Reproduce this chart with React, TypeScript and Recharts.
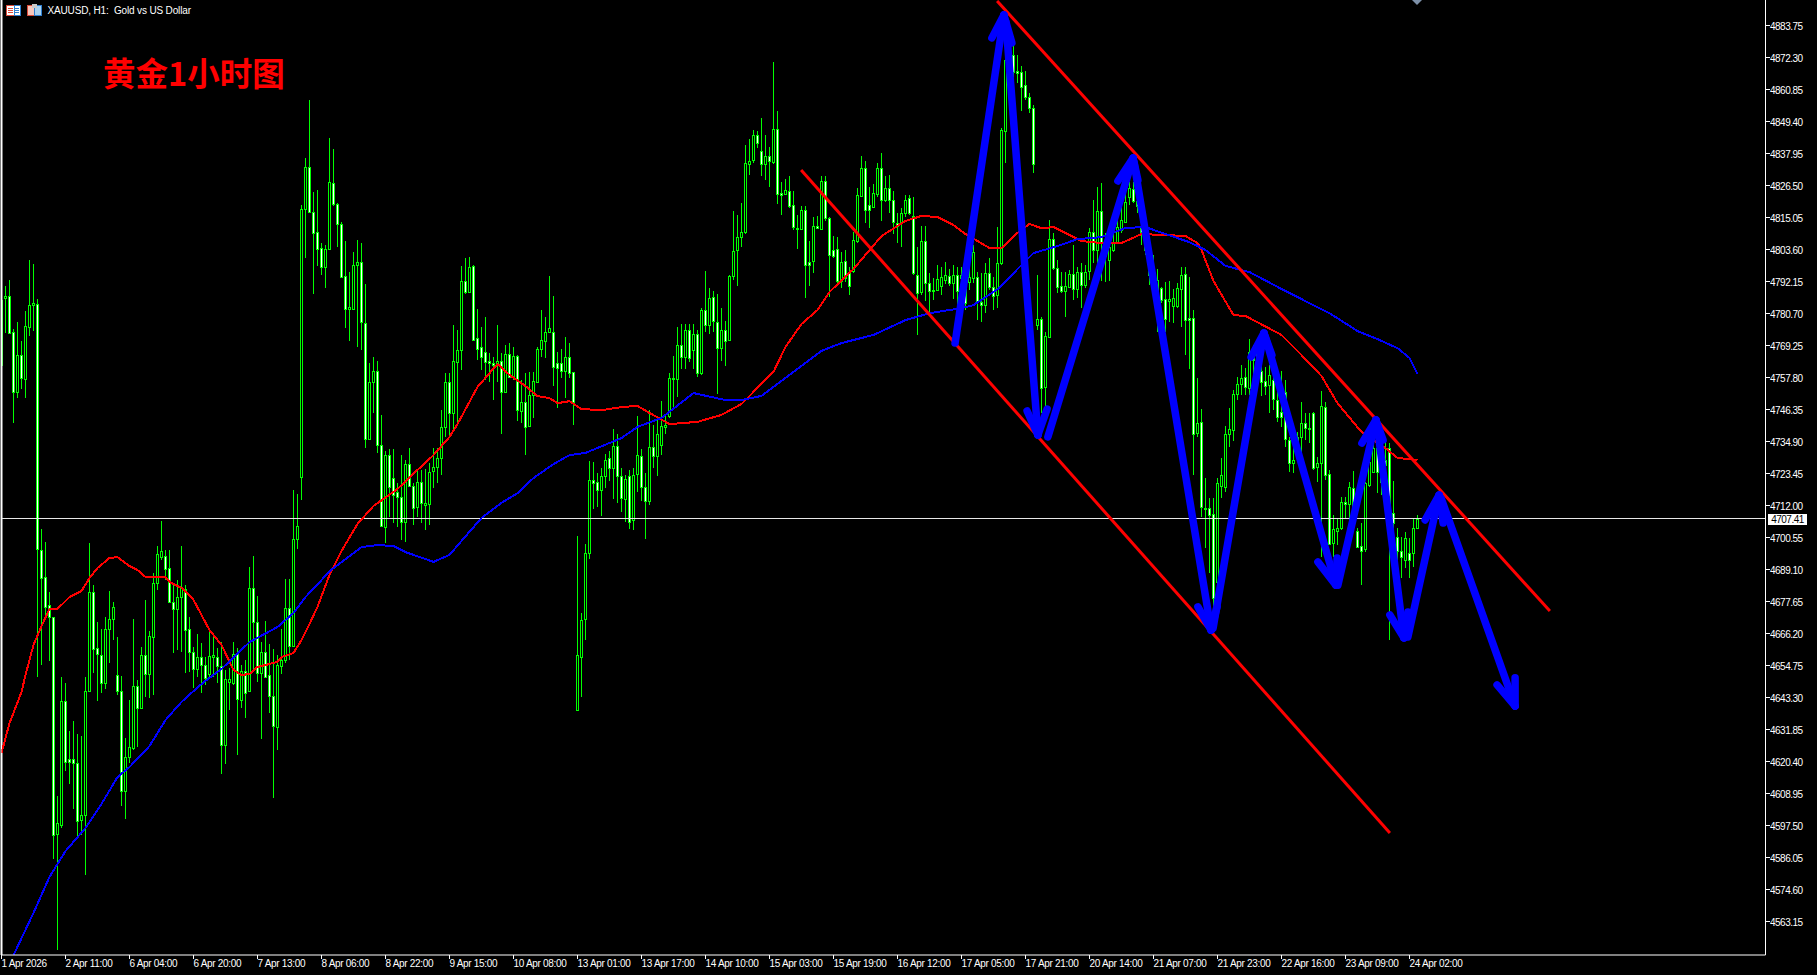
import React from "react";
import {
  Bar,
  ComposedChart,
  Line,
  ReferenceLine,
  XAxis,
  YAxis,
} from "recharts";

const opens = [
  4785.7,4786.4,4787.1,4774.3,4752.8,4766.0,4757.4,4776.0,4783.9,4784.3,
  4696.3,4686.6,4676.6,4672.3,4594.6,4597.9,4642.2,4621.5,4621.5,4620.0,
  4599.6,4601.4,4645.8,4681.2,4661.2,4658.7,4648.7,4668.0,4671.6,4651.5,
  4645.8,4610.0,4622.2,4625.4,4647.6,4639.7,4658.7,4651.9,4665.1,4684.4,
  4693.7,4694.1,4689.8,4677.7,4675.2,4679.4,4682.3,4668.0,4659.8,4653.7,
  4657.9,4655.1,4651.9,4657.9,4657.9,4654.7,4626.5,4649.0,4648.7,4659.0,
  4642.6,4653.0,4645.8,4682.7,4670.5,4652.2,4659.8,4651.5,4644.0,4632.9,
  4654.7,4656.9,4675.5,4661.9,4700.2,4722.4,4818.3,4833.3,4817.2,4810.0,
  4804.3,4797.5,4803.9,4827.6,4820.0,4812.9,4794.3,4782.5,4782.5,4798.2,
  4799.3,4777.5,4736.0,4756.4,4760.3,4733.8,4704.5,4730.2,4722.0,4717.0,
  4715.2,4706.3,4727.0,4719.1,4711.6,4720.6,4712.3,4712.7,4724.5,4726.0,
  4729.2,4740.3,4756.4,4745.3,4763.5,4767.8,4792.5,4788.6,4797.9,4772.1,
  4768.9,4767.1,4763.9,4763.2,4763.2,4763.9,4752.8,4766.4,4758.1,4765.7,
  4746.0,4749.2,4740.6,4751.7,4756.4,4768.2,4771.0,4774.3,4774.3,4763.2,
  4763.2,4760.3,4765.3,4759.9,4639.0,4657.9,4671.6,4695.2,4721.3,4720.6,
  4717.7,4722.7,4729.2,4725.6,4733.5,4722.7,4714.5,4722.7,4707.0,4723.4,
  4729.9,4718.8,4713.8,4733.1,4729.9,4733.8,4740.3,4744.2,4757.8,4757.4,
  4769.6,4765.3,4775.0,4767.8,4773.6,4759.6,4782.1,4776.8,4786.8,4777.8,
  4768.5,4775.0,4771.4,4794.3,4803.6,4808.3,4810.0,4834.4,4835.8,4844.7,
  4839.0,4834.4,4837.2,4835.1,4846.9,4824.0,4823.6,4824.7,4819.7,4811.4,
  4811.1,4817.9,4799.3,4799.7,4812.2,4811.1,4828.3,4815.1,4803.6,4803.9,
  4792.5,4799.7,4795.4,4796.1,4806.8,4822.9,4832.9,4819.7,4819.0,4823.6,
  4832.9,4821.5,4825.8,4821.5,4813.3,4813.3,4816.8,4822.2,4815.8,4794.6,
  4788.6,4806.8,4791.8,4789.3,4789.3,4790.7,4792.9,4794.3,4791.8,4794.6,
  4793.6,4791.0,4792.1,4793.6,4793.9,4785.0,4783.9,4795.4,4790.4,4787.5,
  4798.9,4846.2,4880.5,4873.4,4867.6,4867.3,4862.6,4858.3,4854.4,4776.8,
  4778.9,4754.6,4772.5,4807.5,4797.2,4790.7,4788.9,4790.4,4795.0,4789.6,
  4795.7,4791.0,4796.1,4810.0,4803.6,4817.5,4806.1,4800.0,4803.6,4806.4,
  4810.7,4813.6,4822.5,4825.4,4821.1,4811.4,4810.0,4803.6,4794.6,4787.5,
  4790.0,4786.1,4785.4,4783.6,4783.6,4789.6,4795.0,4779.3,4779.3,4738.1,
  4742.1,4711.3,4711.3,4709.1,4684.8,4719.1,4718.8,4737.8,4739.2,4752.1,
  4755.6,4758.1,4754.2,4767.1,4766.7,4760.3,4756.7,4755.3,4757.1,4749.9,
  4745.6,4752.8,4735.6,4727.4,4729.5,4736.7,4741.7,4739.9,4745.3,4726.0,
  4727.4,4747.4,4723.4,4698.8,4703.1,4704.1,4713.4,4712.7,4718.4,4703.1,
  4697.7,4696.6,4719.5,4724.2,4732.7,4731.3,4728.4,4732.7,4709.5,4700.9,
  4695.9,4692.7,4695.2,4695.2,4704.1,
];

const highs = [
  4786.4,4790.7,4792.9,4775.3,4777.8,4771.0,4781.8,4800.0,4798.6,4786.1,
  4703.8,4699.1,4681.2,4672.3,4608.2,4650.8,4648.7,4631.5,4635.1,4630.4,
  4629.7,4650.8,4698.8,4683.7,4670.5,4668.0,4672.3,4681.6,4677.6,4665.1,
  4651.2,4629.0,4642.6,4671.6,4649.7,4661.5,4678.4,4667.3,4688.0,4697.7,
  4706.6,4696.3,4696.3,4684.4,4685.5,4697.7,4683.7,4672.3,4661.5,4666.2,
  4663.0,4657.9,4667.6,4666.5,4661.2,4663.3,4653.3,4654.0,4663.3,4661.2,
  4655.1,4656.9,4690.2,4694.1,4679.8,4663.3,4670.8,4662.6,4660.8,4658.7,
  4668.0,4685.9,4685.9,4717.7,4716.3,4819.7,4836.5,4857.3,4824.3,4825.0,
  4806.1,4805.4,4843.7,4839.7,4820.4,4813.6,4806.8,4795.7,4802.9,4807.2,
  4806.1,4791.4,4763.2,4765.3,4763.9,4744.6,4731.7,4732.4,4732.4,4720.2,
  4730.2,4728.4,4732.7,4720.2,4724.9,4724.9,4725.2,4727.4,4732.7,4732.7,
  4746.3,4759.6,4759.6,4776.8,4775.0,4797.9,4800.7,4801.1,4798.2,4782.5,
  4776.0,4779.6,4766.7,4765.3,4776.8,4766.7,4769.6,4770.3,4768.9,4766.0,
  4757.1,4759.6,4760.0,4760.0,4768.9,4782.1,4779.6,4794.3,4787.1,4767.1,
  4768.2,4772.5,4770.3,4759.9,4701.3,4673.7,4698.4,4728.1,4727.7,4723.8,
  4725.6,4730.6,4731.7,4739.6,4737.8,4725.6,4723.1,4724.9,4725.6,4744.2,
  4732.4,4723.8,4746.3,4741.0,4743.5,4749.6,4744.9,4759.6,4765.7,4776.0,
  4777.1,4777.1,4777.1,4777.1,4775.0,4782.8,4796.1,4790.0,4788.9,4787.9,
  4782.8,4778.2,4794.7,4817.5,4816.1,4820.4,4841.2,4843.3,4846.5,4846.2,
  4850.8,4844.7,4840.4,4870.9,4853.3,4827.9,4829.0,4830.1,4824.7,4816.1,
  4819.3,4819.3,4806.8,4815.4,4815.8,4830.1,4830.1,4815.4,4808.6,4808.2,
  4802.9,4803.6,4797.5,4810.0,4825.8,4837.2,4835.5,4826.1,4827.2,4834.7,
  4838.3,4830.1,4830.4,4824.7,4816.8,4818.6,4823.3,4823.3,4822.6,4804.7,
  4812.2,4812.2,4795.4,4793.6,4798.2,4797.5,4799.3,4796.8,4798.2,4797.5,
  4797.5,4796.4,4797.5,4805.4,4795.7,4795.4,4798.9,4800.7,4793.9,4811.8,
  4847.2,4885.9,4883.4,4880.2,4873.4,4869.4,4867.6,4859.8,4855.4,4794.6,
  4779.6,4774.3,4814.3,4809.7,4800.0,4795.7,4795.7,4796.4,4805.4,4797.5,
  4798.9,4798.2,4811.4,4821.5,4826.1,4827.6,4809.7,4809.7,4814.3,4815.4,
  4819.7,4825.0,4827.9,4827.9,4825.0,4824.0,4812.5,4807.2,4801.8,4796.8,
  4790.4,4792.2,4792.5,4789.6,4791.8,4797.5,4797.5,4793.9,4782.1,4757.8,
  4746.7,4722.0,4714.9,4714.9,4722.0,4729.2,4740.6,4747.0,4753.5,4758.2,
  4762.4,4761.4,4771.7,4769.6,4769.6,4763.2,4761.7,4762.4,4758.9,4754.2,
  4760.3,4757.1,4736.7,4736.7,4738.5,4749.2,4745.3,4745.3,4745.6,4729.5,
  4753.1,4749.2,4724.9,4708.8,4707.7,4715.2,4715.2,4720.6,4724.5,4704.1,
  4705.9,4720.6,4733.8,4734.5,4735.6,4736.7,4736.7,4734.5,4721.0,4704.1,
  4700.9,4702.7,4700.5,4707.7,4708.8,
];

const lows = [
  4760.6,4773.9,4773.9,4741.7,4750.6,4753.9,4750.6,4772.8,4774.6,4650.8,
  4655.1,4673.0,4656.5,4585.7,4553.1,4596.8,4617.2,4612.5,4603.6,4593.9,
  4594.3,4580.0,4645.4,4652.2,4642.2,4645.1,4646.5,4655.8,4664.0,4644.4,
  4604.6,4600.0,4620.0,4624.7,4625.8,4639.4,4643.7,4643.3,4644.4,4682.0,
  4692.7,4685.5,4677.3,4659.4,4660.5,4659.8,4652.2,4652.6,4646.9,4650.8,
  4645.1,4647.9,4650.8,4650.8,4648.7,4616.1,4619.7,4639.0,4647.9,4622.9,
  4639.7,4636.1,4645.4,4653.0,4649.0,4628.6,4650.8,4637.9,4607.5,4624.7,
  4651.9,4655.8,4656.9,4661.5,4696.6,4714.2,4800.7,4817.2,4787.9,4797.9,
  4794.6,4790.0,4803.6,4819.3,4804.7,4793.6,4775.7,4771.0,4782.1,4768.9,
  4767.8,4732.7,4735.6,4745.3,4731.0,4704.5,4698.8,4708.1,4705.9,4704.5,
  4699.8,4699.1,4718.8,4705.2,4708.1,4705.9,4703.4,4705.2,4718.4,4720.2,
  4723.1,4736.7,4736.7,4738.5,4741.7,4760.7,4787.9,4788.2,4771.0,4764.2,
  4760.7,4757.1,4756.4,4749.9,4756.4,4737.8,4752.4,4757.8,4757.1,4742.4,
  4741.7,4730.2,4740.3,4743.5,4756.0,4765.3,4764.9,4773.9,4754.9,4747.1,
  4757.8,4750.6,4757.8,4741.0,4639.0,4643.7,4664.0,4693.0,4710.9,4711.6,
  4708.4,4718.4,4720.9,4714.5,4713.1,4709.8,4706.3,4703.8,4703.4,4717.0,
  4713.8,4700.2,4712.3,4725.6,4722.7,4730.2,4737.8,4743.5,4747.1,4751.0,
  4761.0,4761.0,4763.5,4761.0,4758.1,4758.9,4774.3,4773.6,4774.3,4752.1,
  4763.9,4762.1,4771.0,4792.9,4790.7,4804.7,4809.3,4830.4,4834.7,4840.1,
  4830.1,4828.6,4826.1,4834.4,4820.0,4816.1,4823.3,4818.6,4810.7,4803.9,
  4810.7,4786.4,4790.7,4795.4,4811.1,4810.7,4814.0,4786.8,4800.7,4791.4,
  4790.0,4792.1,4787.5,4795.4,4806.1,4822.6,4813.3,4811.4,4818.6,4822.6,
  4814.0,4820.8,4816.8,4809.3,4806.1,4804.7,4815.4,4816.1,4794.6,4773.2,
  4787.5,4785.4,4781.4,4785.7,4788.9,4787.5,4791.4,4790.7,4786.1,4783.6,
  4787.5,4782.1,4789.3,4791.8,4778.5,4777.8,4781.1,4789.3,4782.1,4782.8,
  4798.2,4834.7,4857.3,4865.5,4863.3,4853.3,4857.3,4852.6,4831.1,4775.0,
  4745.3,4747.1,4772.1,4796.4,4788.2,4788.2,4779.6,4790.0,4785.7,4786.4,
  4782.8,4790.0,4792.9,4798.9,4798.9,4792.5,4792.1,4792.5,4802.9,4806.1,
  4809.7,4813.3,4819.7,4820.4,4816.8,4805.4,4801.8,4791.0,4785.7,4774.3,
  4784.6,4774.3,4777.8,4777.5,4782.8,4776.1,4766.0,4761.0,4723.1,4736.7,
  4708.1,4696.9,4688.0,4675.9,4672.3,4714.9,4717.0,4733.1,4735.3,4749.9,
  4751.7,4751.7,4751.7,4758.1,4757.1,4751.4,4751.7,4745.3,4746.3,4742.1,
  4740.3,4733.1,4724.2,4723.8,4729.5,4730.2,4735.6,4734.5,4724.9,4720.6,
  4693.7,4721.3,4698.0,4693.7,4698.0,4703.4,4707.7,4707.0,4704.5,4696.9,
  4683.7,4695.5,4718.8,4723.8,4716.6,4715.9,4724.9,4664.0,4700.9,4692.7,
  4686.2,4689.8,4686.2,4690.2,4704.1,
];

const closes = [
  4762.4,4787.1,4773.9,4752.8,4766.0,4757.8,4776.4,4783.9,4784.6,4696.6,
  4686.2,4675.9,4672.3,4594.3,4598.6,4642.2,4620.4,4620.4,4620.0,4599.3,
  4601.4,4645.8,4681.2,4660.8,4659.0,4648.7,4668.0,4671.6,4675.9,4645.8,
  4610.0,4622.2,4625.8,4647.6,4639.7,4658.7,4651.9,4665.5,4684.4,4694.8,
  4695.9,4689.5,4677.7,4675.2,4679.4,4682.7,4667.6,4659.8,4653.7,4657.9,
  4655.1,4650.4,4658.3,4658.7,4654.7,4626.5,4650.1,4650.1,4659.0,4642.9,
  4653.0,4645.1,4682.7,4670.5,4652.2,4659.8,4650.8,4644.0,4633.3,4655.1,
  4656.9,4675.5,4661.9,4700.2,4704.8,4818.3,4833.3,4817.2,4809.7,4803.9,
  4797.5,4803.9,4827.9,4820.0,4812.9,4794.0,4782.5,4783.2,4798.2,4799.3,
  4777.8,4736.0,4756.4,4760.3,4733.8,4704.8,4730.2,4718.8,4715.9,4715.2,
  4706.3,4727.0,4719.1,4711.3,4720.6,4713.1,4713.1,4724.2,4726.0,4729.2,
  4740.3,4756.4,4745.3,4763.9,4767.8,4792.5,4788.6,4797.5,4771.4,4768.2,
  4765.3,4763.5,4763.2,4762.4,4763.9,4752.8,4766.4,4758.1,4765.7,4746.3,
  4749.2,4740.3,4751.7,4756.7,4768.2,4771.4,4774.3,4775.7,4761.7,4761.4,
  4760.3,4765.3,4759.6,4749.2,4658.7,4671.2,4695.2,4721.3,4720.2,4717.7,
  4722.7,4728.4,4725.6,4733.5,4722.7,4714.8,4721.7,4706.3,4723.1,4730.2,
  4718.8,4713.8,4733.1,4729.9,4737.8,4740.6,4741.0,4757.8,4757.4,4769.6,
  4765.3,4775.0,4764.9,4773.6,4759.6,4782.1,4776.8,4786.4,4778.2,4768.5,
  4775.0,4771.0,4794.3,4803.2,4808.3,4810.0,4834.7,4835.5,4844.7,4841.9,
  4834.4,4837.2,4835.5,4846.9,4823.6,4823.3,4825.0,4819.3,4811.8,4811.1,
  4817.9,4798.2,4798.2,4812.2,4811.4,4828.3,4815.1,4801.8,4801.4,4792.5,
  4799.3,4793.6,4790.7,4807.2,4823.3,4832.9,4817.9,4817.9,4824.0,4832.9,
  4821.5,4825.8,4821.5,4813.6,4812.2,4816.8,4821.5,4816.8,4795.4,4788.2,
  4806.8,4791.8,4788.9,4788.9,4793.2,4793.9,4794.6,4791.8,4794.6,4788.9,
  4794.6,4784.6,4793.9,4802.9,4785.0,4783.9,4795.4,4790.4,4787.1,4798.9,
  4846.5,4871.6,4864.4,4867.3,4866.9,4861.9,4858.3,4854.4,4834.4,4778.9,
  4754.2,4772.8,4807.5,4797.2,4790.4,4788.9,4790.7,4795.0,4789.6,4795.7,
  4791.0,4795.7,4810.0,4803.6,4817.5,4806.1,4801.4,4804.7,4806.4,4811.8,
  4814.3,4820.8,4825.8,4821.1,4819.3,4810.0,4803.6,4794.6,4791.0,4792.9,
  4785.7,4778.9,4786.1,4786.4,4790.0,4794.6,4778.5,4778.5,4737.8,4741.7,
  4711.6,4710.9,4708.8,4679.1,4720.2,4723.1,4737.8,4739.6,4752.1,4755.6,
  4757.8,4754.6,4767.1,4764.2,4763.2,4756.4,4754.9,4758.9,4750.3,4743.8,
  4743.8,4736.0,4727.4,4728.4,4736.7,4741.7,4739.9,4739.6,4725.6,4727.4,
  4747.8,4723.1,4698.4,4703.8,4704.1,4713.4,4712.7,4718.8,4711.6,4697.3,
  4695.9,4720.2,4727.7,4732.7,4724.2,4720.6,4726.7,4709.5,4705.9,4695.9,
  4693.7,4700.5,4692.7,4704.1,4707.4,
];

// moving averages at these bars
const redBars = [
  0,2,5,6,8,10,12,14,17,20,22,24,27,29,32,34,36,39,41,42,45,48,52,55,58,60,62,64,66,69,
  70,73,75,77,79,82,85,89,93,99,104,108,112,114,119,124,127,131,134,137,139,142,145,150,155,159,162,167,174,180,
  185,193,196,200,204,207,213,220,226,230,234,238,241,247,250,254,257,260,263,270,275,280,285,290,296,299,300,303,308,311,
  320,325,330,334,340,346,349,354,
];
const redValues = [
  4623.6,4634.3,4645.4,4651.5,4662.3,4669.0,4675.2,4675.2,4679.4,4681.6,4686.2,4689.8,4693.4,4693.7,4690.5,4689.1,4686.6,4686.6,4686.6,4684.8,4682.7,4678.4,4667.6,4662.3,4653.3,4651.5,4651.9,4654.4,4655.1,4656.2,
  4658.0,4659.4,4664.0,4669.8,4675.9,4687.3,4695.9,4705.6,4712.0,4718.1,4724.9,4730.2,4736.7,4741.3,4754.6,4762.8,4758.9,4754.9,4751.3,4750.6,4748.8,4749.5,4746.7,4746.3,4747.4,4747.8,4745.3,4741.3,4742.1,4744.6,
  4748.5,4760.0,4768.9,4777.1,4782.1,4788.6,4796.8,4808.6,4814.0,4815.8,4815.4,4812.5,4809.3,4804.3,4804.3,4809.7,4812.9,4811.4,4811.8,4806.8,4806.1,4806.1,4809.3,4809.0,4808.6,4806.1,4803.6,4792.5,4780.3,4780.0,
  4773.2,4766.0,4758.5,4748.8,4738.5,4732.7,4729.2,4728.4,
];
const blueBars = [
  3,8,12,16,21,25,29,32,37,41,45,50,55,62,69,73,76,80,82,86,90,94,98,101,108,112,115,120,125,129,
  133,138,142,146,155,159,165,173,181,185,190,198,205,210,218,226,232,240,243,249,255,258,264,269,275,281,286,291,297,301,
  306,312,321,332,339,344,349,352,354,
];
const blueValues = [
  4551.3,4566.4,4579.3,4588.5,4596.8,4605.4,4615.0,4618.6,4626.1,4635.4,4641.9,4648.3,4653.7,4663.3,4668.7,4673.7,4679.4,4685.5,4688.7,4693.0,4697.3,4698.0,4697.7,4695.5,4692.0,4694.5,4699.5,4707.7,4713.1,4716.6,
  4722.0,4727.0,4730.2,4731.0,4736.3,4740.3,4743.5,4752.4,4749.9,4749.9,4751.4,4760.0,4767.5,4770.3,4773.2,4778.5,4781.0,4782.8,4783.9,4789.6,4798.2,4802.5,4805.0,4807.5,4808.2,4811.5,4811.8,4809.3,4806.4,4803.6,
  4797.9,4795.7,4788.9,4781.0,4774.6,4771.7,4768.5,4765.0,4759.2,
];

const priceTicks = [
  4883.75,4872.3,4860.85,4849.4,4837.95,4826.5,4815.05,4803.6,4792.15,4780.7,
  4769.25,4757.8,4746.35,4734.9,4723.45,4712,4700.55,4689.1,4677.65,4666.2,
  4654.75,4643.3,4631.85,4620.4,4608.95,4597.5,4586.05,4574.6,4563.15,
];
const timeLabels = [
  "1 Apr 2026","2 Apr 11:00","6 Apr 04:00","6 Apr 20:00","7 Apr 13:00","8 Apr 06:00",
  "8 Apr 22:00","9 Apr 15:00","10 Apr 08:00","13 Apr 01:00","13 Apr 17:00","14 Apr 10:00",
  "15 Apr 03:00","15 Apr 19:00","16 Apr 12:00","17 Apr 05:00","17 Apr 21:00","20 Apr 14:00",
  "21 Apr 07:00","21 Apr 23:00","22 Apr 16:00","23 Apr 09:00","24 Apr 02:00",
];
const lastPrice = 4707.41;

// trend lines: [bar, price] at both ends
const upperTrend = [[248.9, 4892.7], [387.1, 4674.4]];
const lowerTrend = [[199.9, 4832.2], [347.1, 4595.0]];

// hand-drawn arrows in bars and prices: start, tip, left barb, right barb
const arrowBars = [
  [238.4, 250.6, 247.6, 252.6],
  [251.1, 259.1, 256.4, 261.4],
  [261.6, 282.9, 279.1, 284.1],
  [283.1, 302.4, 299.1, 303.9],
  [302.9, 315.6, 312.4, 317.6],
  [315.9, 333.6, 329.1, 333.9],
  [334.1, 343.6, 340.1, 345.4],
  [343.9, 350.6, 347.1, 351.6],
  [351.6, 359.4, 355.9, 360.4],
  [359.9, 378.4, 373.9, 378.4],
];
const arrowPrices = [
  [4770.3, 4887.7, 4879.5, 4877.7],
  [4885.2, 4737.4, 4746.0, 4746.7],
  [4736.7, 4836.5, 4828.3, 4828.6],
  [4835.1, 4667.6, 4675.9, 4675.9],
  [4668.3, 4773.9, 4765.3, 4766.0],
  [4772.8, 4683.7, 4692.0, 4693.4],
  [4683.7, 4742.8, 4734.5, 4735.6],
  [4741.3, 4664.8, 4673.0, 4674.1],
  [4665.1, 4715.9, 4707.0, 4705.9],
  [4714.8, 4640.4, 4648.0, 4650.5],
];

const rows = opens.map((open, i) => {
  const r = redBars.indexOf(i);
  const b = blueBars.indexOf(i);
  return {
    bar: i,
    open,
    high: highs[i],
    low: lows[i],
    close: closes[i],
    red: r >= 0 ? redValues[r] : null,
    blue: b >= 0 ? blueValues[b] : null,
  };
});

const LIME = "#00ff00";
const FONT = "'Liberation Sans', Arial, sans-serif";

function Candle(props: any) {
  const { x, y, width, height, payload } = props;
  const h = Math.abs(height);
  const top = Math.min(y, y + height);
  const range = payload.high - payload.low || 1;
  const yOf = (p: number) => top + ((payload.high - p) / range) * h;
  const col = Math.floor(x + width / 2);
  const bodyTop = Math.round(yOf(Math.max(payload.open, payload.close)));
  const bodyBottom = Math.round(yOf(Math.min(payload.open, payload.close)));
  const inner = Math.max(bodyBottom - bodyTop - 1, 0);
  return (
    <g shapeRendering="crispEdges">
      <rect x={col} y={Math.round(top)} width={1} height={Math.max(Math.round(h), 1)} fill={LIME} />
      <rect x={col - 1} y={bodyTop} width={3} height={Math.max(bodyBottom - bodyTop + 1, 1)} fill={LIME} />
      {inner > 0 && (
        <rect
          x={col}
          y={bodyTop + 1}
          width={1}
          height={inner}
          fill={payload.close >= payload.open ? "#000000" : "#ffffff"}
        />
      )}
    </g>
  );
}

// recharts hands the tick its position past tickSize + tickMargin, so step back to the axis
function PriceTick({ x, y, payload }: any) {
  return (
    <g>
      <rect x={Math.round(x - 8)} y={Math.floor(y)} width={4} height={1} fill="#ffffff" />
      <text x={x - 3.5} y={y + 4.5} fill="#ffffff" fontSize={10} letterSpacing={-0.5} fontFamily={FONT}>
        {payload.value.toFixed(2)}
      </text>
    </g>
  );
}

function TimeTick({ x, y, payload, index }: any) {
  return (
    <g>
      <rect x={Math.floor(x)} y={y - 8} width={1} height={4} fill="#ffffff" />
      <text x={x} y={y + 4} fill="#ffffff" fontSize={10} letterSpacing={-0.3} fontFamily={FONT}>
        {timeLabels[index]}
      </text>
    </g>
  );
}

export default function App() {
  const arrowSegments: { a: [number, number]; b: [number, number] }[] = [];
  arrowBars.forEach((bars, i) => {
    const prices = arrowPrices[i];
    [0, 2, 3].forEach((from) => {
      arrowSegments.push({ a: [bars[from], prices[from]], b: [bars[1], prices[1]] });
    });
  });

  return (
    <div style={{ position: "absolute", left: 0, top: 0, width: 1817, height: 975, background: "#000000", overflow: "hidden" }}>
      <ComposedChart
        width={1817}
        height={975}
        data={rows}
        margin={{ top: 0, right: 0, bottom: 0, left: 1.5 }}
        barGap={0}
      >
        <XAxis
          type="number"
          dataKey="bar"
          domain={[0, 441]}
          allowDataOverflow
          ticks={timeLabels.map((_, i) => i * 16)}
          height={20}
          stroke="#ffffff"
          tickLine={false}
          tick={<TimeTick />}
          interval={0}
        />
        <YAxis
          orientation="right"
          domain={[4551.34, 4893.05]}
          allowDataOverflow
          ticks={priceTicks}
          width={51.5}
          stroke="#ffffff"
          tickLine={false}
          tick={<PriceTick />}
          interval={0}
        />
        <ReferenceLine x={0} stroke="#ffffff" strokeWidth={2} />
        <ReferenceLine y={lastPrice} stroke="#e8e8e8" strokeWidth={1} shapeRendering="crispEdges" />
        <Bar
          dataKey={(d: any) => [d.low, d.high]}
          barSize={3}
          shape={<Candle />}
          isAnimationActive={false}
        />
        <Line dataKey="red" type="linear" stroke="#ff0000" strokeWidth={2} shapeRendering="crispEdges" dot={false} connectNulls isAnimationActive={false} />
        <Line dataKey="blue" type="linear" stroke="#0000ff" strokeWidth={2} shapeRendering="crispEdges" dot={false} connectNulls isAnimationActive={false} />
        {[upperTrend, lowerTrend].map((t, i) => (
          <ReferenceLine
            key={i}
            segment={[{ x: t[0][0], y: t[0][1] }, { x: t[1][0], y: t[1][1] }]}
            stroke="#ff0000"
            strokeWidth={3}
            ifOverflow="visible"
          />
        ))}
        {arrowSegments.map((s, i) => (
          <ReferenceLine
            key={"a" + i}
            segment={[{ x: s.a[0], y: s.a[1] }, { x: s.b[0], y: s.b[1] }]}
            stroke="#0000ff"
            strokeWidth={7.5}
            strokeLinecap="round"
            ifOverflow="visible"
          />
        ))}
      </ComposedChart>

      {/* header icons and symbol line */}
      <svg width={44} height={20} style={{ position: "absolute", left: 0, top: 0 }} shapeRendering="crispEdges">
        <rect x={6.5} y={5.5} width={14} height={10} fill="#ffffff" stroke="#d94a3a" />
        <rect x={14} y={5.5} width={6.5} height={10} fill="#ffffff" stroke="#2f7fd0" />
        <rect x={8} y={8} width={5} height={1} fill="#d94a3a" />
        <rect x={8} y={10} width={5} height={1} fill="#d94a3a" />
        <rect x={8} y={12} width={5} height={1} fill="#d94a3a" />
        <rect x={15} y={8} width={4} height={1} fill="#2f7fd0" />
        <rect x={15} y={10} width={4} height={1} fill="#2f7fd0" />
        <rect x={15} y={12} width={4} height={1} fill="#2f7fd0" />
        <rect x={27.5} y={5.5} width={7} height={10} fill="#f6c8bd" stroke="#d94a3a" />
        <rect x={34.5} y={5.5} width={7} height={10} fill="#a9d2f0" stroke="#2f7fd0" />
        <rect x={32} y={4} width={5} height={4} fill="#c8c8c8" />
      </svg>
      <div style={{ position: "absolute", left: 47.5, top: 5, color: "#ffffff", font: `10px ${FONT}`, letterSpacing: -0.15, whiteSpace: "pre" }}>
        XAUUSD, H1:  Gold vs US Dollar
      </div>
      <div style={{ position: "absolute", left: 103, top: 52, color: "#ff0000", font: `bold 32.5px 'Noto Sans CJK SC', sans-serif`, lineHeight: "40px", whiteSpace: "pre" }}>
        黄金1小时图
      </div>
      <div style={{ position: "absolute", left: 1768, top: 514, width: 39, height: 11, background: "#ffffff", color: "#000000", font: `10px ${FONT}`, letterSpacing: -0.5, lineHeight: "11px", textAlign: "center" }}>
        {lastPrice.toFixed(2)}
      </div>
      <svg width={10} height={5} style={{ position: "absolute", left: 1412, top: 0 }}>
        <path d="M0 0H10L5 5Z" fill="#7d90a8" />
      </svg>
    </div>
  );
}
